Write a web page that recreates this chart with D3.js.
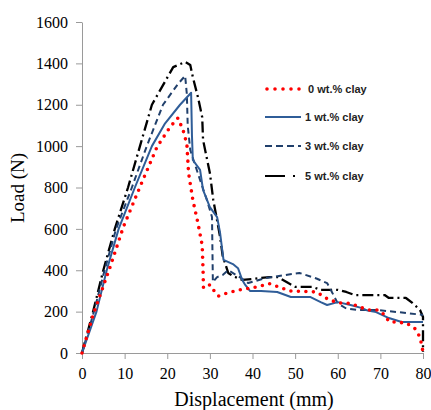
<!doctype html>
<html>
  <head>
    <script src="https://cdn.jsdelivr.net/npm/d3@7/dist/d3.min.js"></script>
    <style>
      body { margin: 0; background: #fff; }
      .axis path, .axis line { stroke: #9a9a9a; }
    </style>
  </head>
  <body>
    <svg id="chart" width="431" height="410"></svg>
    <script>
      // readings: displacement (mm) / load (N)
      const clay0X = [0, 2.6, 6.6, 9.7, 13.6, 17.6, 20.7, 22.5, 23.7, 24.6, 25, 26, 27.2, 28.2, 28.4, 28.5, 30, 31, 32, 34, 37, 41, 44, 48.8, 55, 58, 60.5, 63, 67, 69.5, 71, 72, 76, 78, 79.3, 80];
      const clay0Y = [0, 184, 416, 609, 803, 996, 1093, 1136, 1078, 1010, 870, 740, 628, 520, 400, 314, 330, 300, 275, 290, 305, 319, 335, 300, 295, 256, 242, 240, 208, 208, 184, 152, 145, 121, 77, 5];

      const clay1X = [0, 3.4, 5.8, 8.6, 12.4, 16.4, 19.5, 23, 25.6, 25.8, 26, 27.7, 28.4, 30, 31.7, 32.4, 32.9, 33.2, 35.4, 36.6, 37.6, 38.3, 39.4, 42, 45.8, 49, 53.5, 56, 57.5, 60, 63, 65.7, 67, 69, 72, 75, 80];
      const clay1Y = [0, 200, 400, 600, 800, 1000, 1110, 1200, 1258, 1050, 933, 885, 788, 705, 657, 580, 498, 450, 430, 410, 353, 329, 300, 300, 295, 271, 271, 246, 232, 246, 232, 217, 205, 198, 169, 150, 150];

      const clay3X = [0, 2.8, 5.3, 8, 11.7, 15.2, 19, 22.5, 24.2, 24.6, 24.8, 25.4, 27.7, 29.3, 30.5, 30.6, 30.7, 31.7, 33, 34.3, 37, 39, 43, 51, 55, 57.5, 58.5, 60, 62, 64.5, 69, 74, 80];
      const clay3Y = [0, 200, 400, 600, 800, 1000, 1200, 1300, 1340, 1250, 1100, 981, 836, 740, 657, 500, 343, 367, 377, 400, 367, 338, 362, 387, 360, 338, 300, 240, 215, 208, 208, 198, 184];

      const clay5X = [0, 2.6, 5, 7.7, 10.8, 13.6, 16.4, 21.4, 24.2, 25.4, 26, 27.2, 28.2, 28.4, 30, 30.8, 31.7, 32.4, 33, 34.3, 35.4, 37.6, 40, 44, 46, 48.4, 50, 54, 56, 60, 62, 64, 71, 72, 76, 77.5, 79.3, 80, 80];
      const clay5Y = [0, 200, 400, 600, 800, 1000, 1200, 1382, 1407, 1392, 1334, 1237, 1140, 1030, 870, 740, 640, 561, 470, 387, 372, 353, 358, 367, 367, 338, 320, 320, 305, 305, 295, 280, 280, 266, 266, 242, 208, 174, 5];

      const seriesNames = ["0 wt.% clay", "1 wt.% clay", "3 wt.% clay", "5 wt.% clay"];
      const yTicks = [0, 200, 400, 600, 800, 1000, 1200, 1400, 1600];
      const xTicks = [0, 10, 20, 30, 40, 50, 60, 70, 80];

      const styles = [
        { color: "#ff0000", width: 3.6, dash: "0 7.5", cap: "round" },
        { color: "#2f5d98", width: 2, dash: null, cap: "butt" },
        { color: "#203f6b", width: 2, dash: "6 4", cap: "butt" },
        { color: "#000000", width: 2.3, dash: "11 4 2 4", cap: "butt" }
      ];

      const series = [
        clay0X.map((x, i) => [x, clay0Y[i]]),
        clay1X.map((x, i) => [x, clay1Y[i]]),
        clay3X.map((x, i) => [x, clay3Y[i]]),
        clay5X.map((x, i) => [x, clay5Y[i]])
      ];

      const serif = "'Liberation Serif', 'Times New Roman', serif";
      const svg = d3.select("#chart");

      xScale = d3.scaleLinear().domain([0, 80]).range([82, 423]);
      yScale = d3.scaleLinear().domain([0, 1600]).range([353, 22]);

      const yAxisG = svg.append("g")
        .attr("class", "axis")
        .attr("transform", "translate(82,0)")
        .call(d3.axisLeft(yScale).tickValues(yTicks).tickFormat(d3.format("d"))
          .tickSize(6).tickPadding(8).tickSizeOuter(0));

      const xAxisG = svg.append("g")
        .attr("class", "axis")
        .attr("transform", "translate(0,353)")
        .call(d3.axisBottom(xScale).tickValues(xTicks).tickFormat(d3.format("d"))
          .tickSize(6).tickPadding(9).tickSizeOuter(0));

      [yAxisG, xAxisG].forEach(g => {
        g.attr("font-family", serif).attr("font-size", 16);
        g.selectAll("text").style("font-family", serif).style("font-size", "16px").attr("fill", "#000");
      });

      const line = d3.line()
        .x(d => xScale(d[0]))
        .y(d => yScale(d[1]));

      // draw 0 wt% last so the dots sit on top
      [3, 2, 1, 0].forEach(i => {
        svg.append("path")
          .datum(series[i])
          .attr("d", line)
          .attr("fill", "none")
          .attr("stroke", styles[i].color)
          .attr("stroke-width", styles[i].width)
          .attr("stroke-dasharray", styles[i].dash)
          .attr("stroke-linecap", styles[i].cap)
          .attr("stroke-linejoin", "round");
      });

      // legend
      const legendY = [89, 117, 146, 176];
      const legendDash = ["0 8", null, "7 4", "20 8 2 10"];
      const legend = svg.selectAll("g.legend")
        .data(seriesNames)
        .enter()
        .append("g")
          .attr("class", "legend")
          .attr("transform", (d, i) => `translate(265, ${legendY[i]})`);

      legend.append("line")
        .attr("x1", (d, i) => i == 0 ? 2 : 0)
        .attr("x2", 36)
        .attr("stroke", (d, i) => styles[i].color)
        .attr("stroke-width", (d, i) => i == 0 ? 3.6 : 2)
        .attr("stroke-dasharray", (d, i) => legendDash[i])
        .attr("stroke-linecap", (d, i) => styles[i].cap);

      legend.append("text")
        .attr("x", (d, i) => i == 0 ? 43 : 40)
        .attr("dy", "0.35em")
        .style("font-family", "'Liberation Sans', Arial, sans-serif")
        .style("font-size", "11px")
        .style("font-weight", "bold")
        .style("fill", "#222")
        .text(d => d);

      svg.append("text")
        .attr("x", 254)
        .attr("y", 406)
        .attr("text-anchor", "middle")
        .style("font-family", serif)
        .style("font-size", "20px")
        .text("Displacement (mm)");

      svg.append("text")
        .attr("transform", "translate(24,188) rotate(-90)")
        .attr("text-anchor", "middle")
        .style("font-family", serif)
        .style("font-size", "19px")
        .text("Load (N)");
    </script>
  </body>
</html>
